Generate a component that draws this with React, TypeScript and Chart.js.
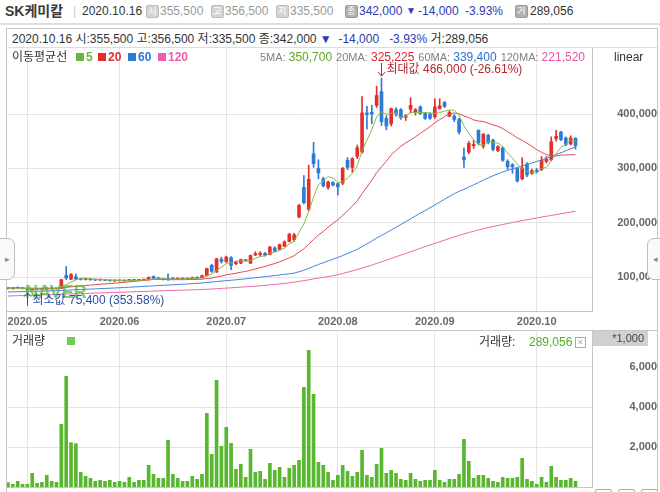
import React, { useEffect, useRef } from "react";
import { Chart, registerables } from "chart.js";

Chart.register(...registerables);

const FONT = "'Liberation Sans', 'Noto Sans CJK KR', 'Noto Sans', sans-serif";

// ---------------- data ----------------
const stockName = "SK케미칼";

const dates: string[] = [
  "2020.04.24", "2020.04.27", "2020.04.28", "2020.04.29",
  "2020.05.04", "2020.05.06", "2020.05.07", "2020.05.08", "2020.05.11", "2020.05.12", "2020.05.13", "2020.05.14", "2020.05.15",
  "2020.05.18", "2020.05.19", "2020.05.20", "2020.05.21", "2020.05.22", "2020.05.25", "2020.05.26", "2020.05.27", "2020.05.28", "2020.05.29",
  "2020.06.01", "2020.06.02", "2020.06.03", "2020.06.04", "2020.06.05", "2020.06.08", "2020.06.09", "2020.06.10", "2020.06.11", "2020.06.12",
  "2020.06.15", "2020.06.16", "2020.06.17", "2020.06.18", "2020.06.19", "2020.06.22", "2020.06.23", "2020.06.24", "2020.06.25", "2020.06.26",
  "2020.06.29", "2020.06.30",
  "2020.07.01", "2020.07.02", "2020.07.03", "2020.07.06", "2020.07.07", "2020.07.08", "2020.07.09", "2020.07.10", "2020.07.13", "2020.07.14",
  "2020.07.15", "2020.07.16", "2020.07.17", "2020.07.20", "2020.07.21", "2020.07.22", "2020.07.23", "2020.07.24", "2020.07.27", "2020.07.28",
  "2020.07.29", "2020.07.30", "2020.07.31",
  "2020.08.03", "2020.08.04", "2020.08.05", "2020.08.06", "2020.08.07", "2020.08.10", "2020.08.11", "2020.08.12", "2020.08.13", "2020.08.14",
  "2020.08.18", "2020.08.19", "2020.08.20", "2020.08.21", "2020.08.24", "2020.08.25", "2020.08.26", "2020.08.27", "2020.08.28", "2020.08.31",
  "2020.09.01", "2020.09.02", "2020.09.03", "2020.09.04", "2020.09.07", "2020.09.08", "2020.09.09", "2020.09.10", "2020.09.11", "2020.09.14",
  "2020.09.15", "2020.09.16", "2020.09.17", "2020.09.18", "2020.09.21", "2020.09.22", "2020.09.23", "2020.09.24", "2020.09.25", "2020.09.28",
  "2020.09.29",
  "2020.10.05", "2020.10.06", "2020.10.07", "2020.10.08", "2020.10.12", "2020.10.13", "2020.10.14", "2020.10.15", "2020.10.16",
];

// prices in thousands of won
const openK = [
  80, 79, 80.5, 80, 78.5, 77, 78.5, 78, 78.5, 80,
  79, 80, 103.5, 96.5, 101, 96.5, 96, 96.5, 95.5, 95,
  95.5, 94.5, 93.5, 94, 93.5, 94, 95.5, 94.5, 95, 95.5,
  101.5, 98, 97, 97.5, 98.5, 97, 97.5, 97, 97.5, 99.5,
  99, 103, 122, 110, 133, 129, 136, 125, 126, 132,
  126, 141, 142, 144, 142, 154, 151.5, 157, 166, 169,
  211, 265, 225, 327, 300, 281, 265, 274, 272, 273,
  315, 302, 322, 330, 402, 403, 416, 441, 392, 382,
  408, 408, 394, 409, 403, 413, 401, 400, 395, 410,
  421, 396, 396, 390, 321, 330, 342, 370, 341, 361,
  352, 333, 338, 313, 307, 300, 281, 308, 291, 296,
  298, 313, 316, 355, 367, 356, 345, 355.5,
];
const highK = [
  81, 80.5, 82, 81, 79, 79.5, 79, 79, 81, 80.5,
  80, 96.5, 120, 107, 106, 98, 97.5, 97, 96.5, 96.5,
  96, 95, 94.5, 95, 94.5, 96, 96, 95.5, 96, 101,
  102.5, 99, 98, 106.5, 99.5, 98, 98.5, 98, 100.5, 100.5,
  104, 117, 124, 135, 137, 139, 138, 129, 133.5, 133,
  141, 147, 147, 146, 157, 156, 161, 167, 181, 181,
  234, 287, 306, 348, 316, 284, 277, 276, 274, 302,
  320, 320, 343, 432, 414, 416, 451, 466, 397, 411,
  412, 410, 399, 430, 410, 415, 403, 402, 428, 428,
  423, 406, 399, 392, 338, 350, 352, 371, 364, 363,
  354, 342, 340, 316, 309, 301, 320, 311, 299, 300,
  322, 322, 358, 370, 368, 358, 360, 356.5,
];
const lowK = [
  78.5, 78, 79.5, 78.5, 75.4, 76.5, 77.5, 77, 78, 78.5,
  78, 79.5, 96, 95.5, 95.5, 95, 95, 94.5, 94, 94.5,
  94, 93, 92.5, 93, 92.5, 93.5, 94, 94, 94.5, 95,
  97.5, 96.5, 95, 94.5, 96.5, 96, 96.5, 96, 97, 98,
  98.5, 102, 109, 108.5, 126, 127, 114, 123, 125, 129.5,
  125, 140, 139, 139, 141, 147, 150, 156, 165, 166,
  209, 235, 222, 302, 281, 266, 262, 268, 251, 270,
  298, 293, 318, 328, 372, 382, 412, 379, 371, 378,
  396, 390, 388, 402, 398, 399, 390, 390, 392, 409,
  412, 395, 386, 363, 302, 327, 337, 343, 337, 345,
  332, 331, 313, 298, 291, 275, 279, 285, 289, 292,
  296, 310, 314, 350, 351, 342, 343, 335.5,
];
const closeK = [
  79, 80, 80, 79, 77, 78.5, 78, 78.5, 80, 79,
  79.5, 95.5, 99, 105, 96.5, 96, 96.5, 95.5, 95, 95.5,
  94.5, 93.5, 94, 93.5, 94, 95.5, 94.5, 95, 95.5, 99.5,
  98, 97.5, 96, 96, 97, 97.5, 97, 97.5, 99.5, 98.5,
  103, 116, 111, 134, 129, 137, 122, 128, 132.5, 130.5,
  140, 143.5, 144, 140, 155.5, 148, 160, 165, 179, 178,
  232, 237, 280, 309, 292, 268, 275, 269, 266, 300,
  302, 318, 338, 402, 399, 400, 434, 386, 378, 410,
  400, 393, 397, 416, 408, 401, 392, 392, 413, 415,
  414, 403, 390, 367, 316, 346, 344, 347, 363, 348,
  335, 340, 315, 303, 303, 277, 301, 288, 296, 295,
  315, 317, 349, 359, 353, 344, 356, 342,
];
// volume in thousands of shares
const volumeK = [
  217, 133, 283, 133, 133, 683, 183, 233, 583, 283,
  233, 3133, 5533, 2217, 2167, 733, 533, 433, 283, 333,
  283, 333, 233, 283, 233, 483, 233, 333, 333, 1083,
  633, 433, 433, 2333, 633, 433, 283, 283, 533, 383,
  633, 3683, 1633, 5333, 2033, 2983, 2183, 883, 1133, 483,
  1883, 733, 783, 383, 1183, 833, 983, 483, 933, 1083,
  1333, 4983, 6833, 4633, 1233, 1083, 733, 333, 583, 1083,
  783, 533, 733, 1833, 583, 483, 1133, 1933, 683, 833,
  683, 383, 333, 683, 383, 283, 333, 333, 833, 333,
  233, 383, 383, 633, 2383, 1283, 433, 583, 583, 433,
  283, 233, 483, 433, 433, 483, 1433, 383, 283, 133,
  483, 233, 1033, 483, 333, 333, 433, 289.056,
];
// moving averages (thousands)
const ma5 = [
  80.0, 79.8, 79.8, 79.6, 79.0, 78.9, 78.5, 78.2, 78.4, 78.8,
  79.0, 82.5, 86.6, 91.6, 95.1, 98.4, 98.6, 97.9, 95.9, 95.7,
  95.4, 94.8, 94.5, 94.2, 93.9, 94.1, 94.3, 94.5, 94.9, 96.0,
  96.5, 97.1, 97.3, 97.4, 96.9, 96.8, 96.7, 97.0, 97.7, 98.0,
  99.1, 102.9, 105.6, 112.5, 118.6, 125.4, 126.6, 130.0, 129.7, 130.0,
  130.6, 134.9, 138.1, 139.6, 144.6, 146.2, 149.5, 153.7, 161.5, 166.0,
  182.8, 198.2, 221.2, 247.2, 270.0, 277.2, 284.8, 282.6, 274.0, 275.6,
  282.4, 291.0, 304.8, 332.0, 351.8, 371.4, 394.6, 404.2, 399.4, 401.6,
  401.6, 393.4, 395.6, 403.2, 402.8, 403.0, 402.8, 401.8, 401.2, 402.6,
  405.2, 407.4, 407.0, 397.8, 378.0, 364.4, 352.6, 344.0, 343.2, 349.6,
  347.4, 346.6, 340.2, 328.2, 319.2, 307.6, 299.8, 294.4, 293.0, 291.4,
  299.0, 302.2, 314.4, 327.0, 338.6, 344.4, 352.2, 350.7,
];
const ma20 = [
  80.6, 80.5, 80.4, 80.3, 80.1, 80.0, 79.9, 79.8, 79.8, 79.7,
  79.6, 80.4, 81.3, 82.5, 83.3, 84.1, 84.9, 85.7, 86.4, 87.2,
  87.9, 88.6, 89.3, 90.0, 90.9, 91.7, 92.6, 93.4, 94.2, 95.2,
  96.1, 96.2, 96.1, 95.6, 95.6, 95.7, 95.7, 95.8, 96.1, 96.2,
  96.6, 97.8, 98.6, 100.6, 102.4, 104.5, 105.8, 107.5, 109.3, 110.9,
  113.0, 115.3, 117.7, 119.9, 122.8, 125.3, 128.5, 131.9, 135.8, 139.8,
  146.3, 152.3, 160.8, 169.5, 177.7, 184.2, 191.9, 198.9, 205.6, 214.1,
  222.2, 230.9, 240.6, 253.7, 265.9, 278.5, 292.2, 303.2, 313.2, 324.8,
  333.2, 341.0, 346.8, 352.2, 358.0, 364.6, 370.5, 376.6, 384.0, 389.7,
  395.3, 399.6, 402.2, 400.4, 396.3, 393.6, 389.1, 387.1, 386.4, 383.3,
  380.0, 377.4, 373.3, 367.6, 362.4, 356.2, 351.6, 346.4, 340.6, 334.6,
  329.6, 325.3, 323.3, 322.9, 324.7, 324.7, 325.2, 325.225,
];
const ma60 = [
  73.0, 73.2, 73.5, 73.7, 73.9, 74.1, 74.4, 74.6, 74.9, 75.1,
  75.4, 75.8, 76.3, 76.8, 77.2, 77.6, 78.0, 78.4, 78.8, 79.2,
  79.6, 80.0, 80.4, 80.8, 81.3, 81.8, 82.3, 82.8, 83.3, 83.8,
  84.3, 84.8, 85.3, 85.8, 86.3, 86.8, 87.3, 87.8, 88.4, 89.0,
  89.7, 90.5, 91.3, 92.2, 93.0, 93.9, 94.6, 95.4, 96.3, 97.2,
  98.2, 99.2, 100.2, 101.1, 102.2, 103.2, 104.3, 105.4, 106.5, 107.7,
  110.3, 112.9, 116.2, 120.1, 123.6, 126.8, 130.1, 133.3, 136.4, 140.0,
  143.7, 147.5, 151.4, 156.4, 161.4, 166.5, 172.1, 177.0, 181.7, 186.9,
  192.0, 197.0, 202.1, 207.4, 212.7, 217.8, 222.7, 227.7, 233.0, 238.2,
  243.5, 248.6, 253.5, 258.0, 261.6, 265.8, 269.9, 274.1, 278.4, 282.6,
  286.5, 290.2, 293.6, 296.4, 299.3, 301.7, 304.6, 307.3, 310.0, 312.8,
  315.7, 318.6, 322.0, 325.6, 328.9, 332.3, 336.0, 339.4,
];
const ma120 = [
  65.6, 65.9, 66.2, 66.5, 66.8, 67.1, 67.4, 67.7, 68.0, 68.3,
  68.6, 68.9, 69.2, 69.5, 69.8, 70.1, 70.4, 70.7, 71.0, 71.3,
  71.6, 71.9, 72.2, 72.5, 72.8, 73.1, 73.4, 73.7, 74.0, 74.3,
  74.6, 74.9, 75.2, 75.5, 75.8, 76.1, 76.4, 76.7, 77.0, 77.3,
  77.6, 78.0, 78.5, 79.1, 79.6, 80.2, 80.7, 81.3, 81.9, 82.5,
  83.1, 83.8, 84.5, 85.3, 86.1, 86.9, 87.8, 88.8, 89.9, 91.1,
  92.5, 93.9, 95.4, 97.0, 98.5, 99.9, 101.3, 103.0, 104.9, 107.0,
  109.3, 111.7, 114.2, 116.8, 119.6, 122.5, 125.5, 128.5, 131.5, 134.6,
  137.7, 140.8, 143.9, 147.0, 150.1, 153.2, 156.3, 159.3, 162.3, 165.3,
  168.3, 171.3, 174.2, 177.0, 179.8, 182.3, 184.7, 187.0, 189.2, 191.3,
  193.3, 195.2, 197.0, 198.8, 200.6, 202.4, 204.1, 205.8, 207.5, 209.1,
  210.7, 212.2, 213.7, 215.2, 216.7, 218.3, 219.9, 221.52,
];
const maPeriods = [5, 20, 60, 120];
const priceTicksK = [100, 200, 300, 400];
const volumeTicksK = [2000, 4000, 6000];

// ---------------- styles ----------------
const RED = "#e3302b";
const BLUE = "#2d7bd8";
const VOL_GREEN = "#58b72f";
const MA_COLORS = ["#8ab84c", "#e14a4a", "#3f84da", "#f064ac"];
const LEG_COLORS = ["#6db33f", "#e02d2d", "#2f76d6", "#f05ca9"];
const VAL_COLORS = ["#5ca427", "#d42a2e", "#2f6fd1", "#e455a5"];
const NAVY = "#2c3bb0";
const GRID = "#e4e4e4";
const BORDER = "#c6c6c6";
const X_MIN = -0.2;
const X_MAX = 120.4;

const fmt = (n: number) => Math.round(n).toLocaleString("en-US");

const T = (p: { x: number; y: number; children: any; style?: any }) => (
  <div style={{ position: "absolute", left: p.x, top: p.y, lineHeight: "14px", whiteSpace: "nowrap", ...p.style }}>
    {p.children}
  </div>
);

const Icon = (p: { x: number; ch: string; dark?: boolean }) => (
  <div
    style={{
      position: "absolute", left: p.x, top: 5, width: 11, height: 11, border: "1px solid " + (p.dark ? "#9a9a9a" : "#bdbdbd"),
      background: p.dark ? "#b0b0b0" : "#d4d4d4", color: "#fff", fontSize: 9, lineHeight: "11px", textAlign: "center", borderRadius: 2,
    }}
  >
    {p.ch}
  </div>
);

export default function App() {
  const priceRef = useRef<HTMLCanvasElement>(null);
  const volRef = useRef<HTMLCanvasElement>(null);

  const last = dates.length - 1;
  const cO = openK[last] * 1000, cH = highK[last] * 1000, cL = lowK[last] * 1000, cC = closeK[last] * 1000;
  const chg = (closeK[last] - closeK[last - 1]) * 1000;
  const pct = (chg / (closeK[last - 1] * 1000)) * 100;
  const arrow = chg < 0 ? "▼" : "▲";
  const lastDate = dates[last];
  const mas = [ma5, ma20, ma60, ma120];

  useEffect(() => {
    Chart.defaults.font.family = FONT;
    const monthStarts = dates
      .map((d, i) => ({ i, label: d.slice(0, 7) }))
      .filter((m, i) => i > 0 && m.label !== dates[i - 1].slice(0, 7));
    const labelAt = new Map(monthStarts.map((m) => [m.i, m.label]));

    const xScale = (show: boolean, height: number) => ({
      type: "linear", min: X_MIN, max: X_MAX, offset: false,
      afterBuildTicks: (s: any) => { s.ticks = monthStarts.map((m) => ({ value: m.i })); },
      ticks: {
        display: show, autoSkip: false, maxRotation: 0, minRotation: 0, padding: 4, color: "#6a6a6a",
        font: { size: 11, weight: "bold", family: FONT },
        callback: (v: any) => labelAt.get(v) ?? "",
      },
      grid: { color: GRID, drawTicks: false, offset: false },
      border: { display: true, color: BORDER },
      afterFit: (s: any) => { s.height = height; s.paddingLeft = 0; s.paddingRight = 0; },
    });

    const up = closeK.map((c, i) => c >= openK[i]);
    const cColors = up.map((u) => (u ? RED : BLUE));

    const maxI = highK.indexOf(Math.max(...highK));
    const minI = lowK.indexOf(Math.min(...lowK));
    const lastClose = closeK[closeK.length - 1];

    const extremaPlugin = {
      id: "extrema",
      afterDatasetsDraw(chart: any) {
        const { ctx, scales, chartArea } = chart;
        const x = scales.x, y = scales.y;
        ctx.save();
        // watermark
        ctx.font = `bold 18px ${FONT}`;
        ctx.fillStyle = "rgba(88,186,60,0.75)";
        ctx.textBaseline = "middle";
        ctx.fillText("NAVER", chartArea.left + 18, chartArea.top + 245);

        ctx.font = `12px ${FONT}`;
        ctx.lineWidth = 1;
        // max
        const mx = Math.round(x.getPixelForValue(maxI)) + 0.5;
        const my = y.getPixelForValue(highK[maxI]);
        ctx.strokeStyle = ctx.fillStyle = "#b8262c";
        ctx.beginPath();
        ctx.moveTo(mx, my - 15); ctx.lineTo(mx, my - 2);
        ctx.moveTo(mx - 3.5, my - 6); ctx.lineTo(mx, my - 2); ctx.lineTo(mx + 3.5, my - 6);
        ctx.stroke();
        const maxPct = ((lastClose / highK[maxI] - 1) * 100).toFixed(2);
        ctx.fillText(`최대값 ${fmt(highK[maxI] * 1000)} (${maxPct}%)`, mx + 5, my - 8);
        // min
        const nx = Math.round(x.getPixelForValue(minI)) + 0.5;
        const ny = y.getPixelForValue(lowK[minI]);
        ctx.strokeStyle = ctx.fillStyle = "#2a4fa8";
        ctx.beginPath();
        ctx.moveTo(nx, ny + 15); ctx.lineTo(nx, ny + 2);
        ctx.moveTo(nx - 3.5, ny + 6); ctx.lineTo(nx, ny + 2); ctx.lineTo(nx + 3.5, ny + 6);
        ctx.stroke();
        const minPct = ((lastClose / lowK[minI] - 1) * 100).toFixed(2);
        ctx.fillText(`최소값 ${fmt(lowK[minI] * 1000)} (${minPct}%)`, nx + 5, ny + 10);
        ctx.restore();
      },
    };

    const lineDs = mas.map((arr, k) => ({
      type: "line", label: `MA${maPeriods[k]}`,
      data: arr.map((v, i) => ({ x: i, y: v })),
      borderColor: MA_COLORS[k], borderWidth: 1, pointRadius: 0, tension: 0, fill: false, order: k + 1,
    }));

    const priceChart = new Chart(priceRef.current as HTMLCanvasElement, {
      type: "bar",
      data: {
        datasets: [
          ...lineDs,
          {
            type: "bar", label: "body",
            data: openK.map((o, i) => ({ x: i, y: [o, closeK[i]] })),
            backgroundColor: cColors, barThickness: 3, minBarLength: 1, grouped: false, order: 6,
          },
          {
            type: "bar", label: "wick",
            data: lowK.map((l, i) => ({ x: i, y: [l, highK[i]] })),
            backgroundColor: cColors, barThickness: 1, grouped: false, order: 7,
          },
        ] as any,
      },
      options: {
        responsive: false, animation: false, devicePixelRatio: 1, events: [],
        layout: { padding: 0 },
        plugins: { legend: { display: false }, tooltip: { enabled: false } },
        scales: {
          x: xScale(true, 19) as any,
          y: {
            type: "linear", position: "right", min: 38.1, max: 521.3, beginAtZero: false,
            afterBuildTicks: (s: any) => { s.ticks = priceTicksK.map((v) => ({ value: v })); },
            ticks: {
              crossAlign: "far", padding: 13, color: "#666",
              font: { size: 11, weight: "bold", family: FONT },
              callback: (v: any) => fmt(v * 1000),
            },
            grid: { color: GRID, drawTicks: false },
            border: { display: true, color: BORDER },
            afterFit: (s: any) => { s.width = 65; s.paddingTop = 0; s.paddingBottom = 0; },
          } as any,
        },
      },
      plugins: [extremaPlugin as any],
    });

    const volChart = new Chart(volRef.current as HTMLCanvasElement, {
      type: "bar",
      data: {
        datasets: [
          {
            label: "거래량",
            data: volumeK.map((v, i) => ({ x: i, y: v })),
            backgroundColor: VOL_GREEN, barThickness: 3, grouped: false,
          } as any,
        ],
      },
      options: {
        responsive: false, animation: false, devicePixelRatio: 1, events: [],
        layout: { padding: 0 },
        plugins: { legend: { display: false }, tooltip: { enabled: false } },
        scales: {
          x: xScale(false, 1) as any,
          y: {
            type: "linear", position: "right", min: 0, max: 7850, beginAtZero: true,
            afterBuildTicks: (s: any) => { s.ticks = volumeTicksK.map((v) => ({ value: v })); },
            ticks: {
              crossAlign: "far", padding: 25, color: "#666",
              font: { size: 11, weight: "bold", family: FONT },
              callback: (v: any) => fmt(v),
            },
            grid: { color: GRID, drawTicks: false },
            border: { display: true, color: BORDER },
            afterFit: (s: any) => { s.width = 65; s.paddingTop = 0; s.paddingBottom = 0; },
          } as any,
        },
      },
    });

    return () => {
      priceChart.destroy();
      volChart.destroy();
    };
  }, []);

  return (
    <div
      style={{
        position: "fixed", left: 0, top: 0, width: 660, height: 492, overflow: "hidden", background: "#fff",
        fontFamily: FONT, fontSize: 12, color: "#333",
      }}
    >
      {/* header */}
      <T x={5} y={3} style={{ fontSize: 14, fontWeight: "bold", color: "#3a3a3a", lineHeight: "16px" }}>{stockName}</T>
      <T x={73} y={4} style={{ color: "#ccc" }}>|</T>
      <T x={82} y={4}>{lastDate}</T>
      <Icon x={146} ch="시" />
      <T x={160} y={4} style={{ color: "#999" }}>{fmt(cO)}</T>
      <Icon x={211} ch="고" />
      <T x={225} y={4} style={{ color: "#999" }}>{fmt(cH)}</T>
      <Icon x={276} ch="저" />
      <T x={290} y={4} style={{ color: "#999" }}>{fmt(cL)}</T>
      <Icon x={345} ch="종" dark />
      <T x={359} y={4} style={{ color: NAVY }}>{fmt(cC)}</T>
      <T x={406} y={4} style={{ color: NAVY, fontSize: 10 }}>{arrow}</T>
      <T x={418} y={4} style={{ color: NAVY }}>{fmt(chg)}</T>
      <T x={465} y={4} style={{ color: NAVY }}>{pct.toFixed(2)}%</T>
      <Icon x={515} ch="거" dark />
      <T x={530} y={4} style={{ color: "#333" }}>{fmt(volumeK[last] * 1000)}</T>
      <div style={{ position: "absolute", left: 0, top: 23, width: 660, height: 2, background: "#dedede" }} />

      {/* outer chart box */}
      <div style={{ position: "absolute", left: 6, top: 28, width: 650, height: 480, border: "1px solid " + BORDER }} />
      <div style={{ position: "absolute", left: 6, top: 47, width: 651, height: 1, background: "#dcdcdc" }} />

      {/* info row */}
      <T x={12} y={32}>
        {lastDate} 시:{fmt(cO)} 고:{fmt(cH)} 저:{fmt(cL)} 종:{fmt(cC)}{" "}
        <span style={{ color: NAVY }}>{arrow}&nbsp; {fmt(chg)}&nbsp;&nbsp; {pct.toFixed(2)}%</span> 거:{fmt(volumeK[last] * 1000)}
      </T>

      {/* charts */}
      <canvas ref={priceRef} width={650} height={282} style={{ position: "absolute", left: 7, top: 48 }} />
      <div style={{ position: "absolute", left: 6, top: 330, width: 651, height: 1, background: BORDER }} />
      <canvas ref={volRef} width={650} height={158} style={{ position: "absolute", left: 7, top: 330 }} />

      {/* MA legend row */}
      <T x={12} y={50}>이동평균선</T>
      {maPeriods.map((p, k) => {
        const xs = [76, 98, 128, 158][k];
        return (
          <React.Fragment key={p}>
            <div style={{ position: "absolute", left: xs, top: 53, width: 8, height: 8, background: LEG_COLORS[k] }} />
            <T x={xs + 10} y={50} style={{ color: LEG_COLORS[k], fontWeight: "bold" }}>{p}</T>
          </React.Fragment>
        );
      })}
      <div style={{ position: "absolute", right: 660 - 585, top: 50, lineHeight: "14px", whiteSpace: "nowrap" }}>
        {maPeriods.map((p, k) => (
          <span key={p} style={{ marginLeft: k ? 4 : 0 }}>
            <span style={{ color: "#808080", fontSize: 11 }}>{p}MA: </span>
            <span style={{ color: VAL_COLORS[k] }}>{fmt(mas[k][last] * 1000)}</span>
          </span>
        ))}
      </div>
      <T x={614} y={50} style={{ color: "#333" }}>linear</T>

      {/* volume header */}
      <T x={12} y={334}>거래량</T>
      <div style={{ position: "absolute", left: 67, top: 337, width: 8, height: 8, background: "#72cc52" }} />
      <T x={479} y={335}>거래량:</T>
      <T x={529} y={335} style={{ color: "#4fb028" }}>{fmt(volumeK[last] * 1000)}</T>
      <div
        style={{
          position: "absolute", left: 575, top: 337, width: 9, height: 9, border: "1px solid #aaa", color: "#999",
          fontSize: 9, lineHeight: "9px", textAlign: "center",
        }}
      >
        ×
      </div>
      <div
        style={{
          position: "absolute", left: 593, top: 331, width: 55, height: 15, background: "#d0d0d0", color: "#444",
          fontSize: 11, lineHeight: "15px", textAlign: "right",
        }}
      >
        <span style={{ marginRight: 4 }}>*1,000</span>
      </div>

      {/* side tabs */}
      <div
        style={{
          position: "absolute", left: -1, top: 238, width: 14, height: 40, background: "#fafafa",
          border: "1px solid #bdbdbd", borderRadius: "0 7px 7px 0", color: "#888", fontSize: 9, lineHeight: "40px",
          textAlign: "center",
        }}
      >
        ▸
      </div>
      <div
        style={{
          position: "absolute", left: 647, top: 238, width: 14, height: 40, background: "#fafafa",
          border: "1px solid #bdbdbd", borderRadius: "7px 0 0 7px", color: "#888", fontSize: 9, lineHeight: "40px",
          textAlign: "center",
        }}
      >
        ◂
      </div>

      {/* bottom buttons */}
      {[595, 618, 641].map((x) => (
        <div
          key={x}
          style={{ position: "absolute", left: x, top: 489, width: 15, height: 12, border: "1px solid #aaa", borderRadius: 2, background: "#fff" }}
        />
      ))}
    </div>
  );
}
